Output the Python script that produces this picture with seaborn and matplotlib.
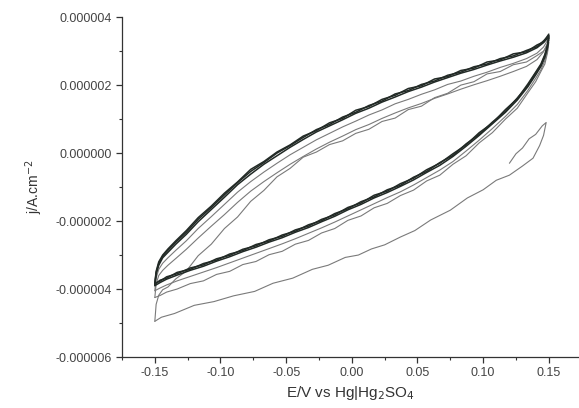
import matplotlib
matplotlib.use("Agg")
import matplotlib.pyplot as plt
from matplotlib.ticker import MultipleLocator, FormatStrFormatter
import seaborn as sns
import pandas as pd

# potential grids (V vs Hg|Hg2SO4)
E_fwd = [-0.150, -0.149, -0.147, -0.144, -0.140, -0.134, -0.126, -0.117, -0.107, -0.097, -0.087, -0.077,
         -0.067, -0.057, -0.047, -0.037, -0.027, -0.017, -0.007, 0.003, 0.013, 0.023, 0.033, 0.043,
         0.053, 0.063, 0.073, 0.083, 0.093, 0.103, 0.113, 0.123, 0.133, 0.141, 0.146, 0.150]
E_rev = [0.150, 0.149, 0.147, 0.144, 0.140, 0.134, 0.126, 0.117, 0.107, 0.097, 0.087, 0.077,
         0.067, 0.057, 0.047, 0.037, 0.027, 0.017, 0.007, -0.003, -0.013, -0.023, -0.033, -0.043,
         -0.053, -0.063, -0.073, -0.083, -0.093, -0.103, -0.113, -0.123, -0.133, -0.141, -0.146, -0.150]
# first scan starts at open circuit, goes up then sweeps down
E_c1 = [0.120, 0.125, 0.130, 0.135, 0.140, 0.145, 0.148, 0.146, 0.143, 0.138, 0.130, 0.120, 0.110,
        0.100, 0.088, 0.075, 0.060, 0.048, 0.037, 0.025, 0.015, 0.005, -0.005, -0.018, -0.030,
        -0.045, -0.060, -0.074, -0.090, -0.105, -0.120, -0.135, -0.145, -0.150]

# current density in uA/cm2, one list per half cycle
j_c1 = [-0.30, -0.02, 0.15, 0.42, 0.55, 0.80, 0.90, 0.52, 0.22, -0.15, -0.38, -0.65, -0.80,
        -1.08, -1.32, -1.68, -1.97, -2.28, -2.47, -2.70, -2.82, -3.00, -3.07, -3.30, -3.42,
        -3.68, -3.83, -4.07, -4.20, -4.37, -4.48, -4.72, -4.83, -4.95]
up1 = [-4.95, -4.45, -4.18, -4.02, -3.94, -3.70, -3.47, -3.02, -2.68, -2.22, -1.88, -1.42,
       -1.10, -0.70, -0.45, -0.12, 0.03, 0.25, 0.36, 0.58, 0.70, 0.93, 1.03, 1.28,
       1.38, 1.63, 1.76, 2.00, 2.10, 2.33, 2.40, 2.60, 2.68, 2.87, 3.00, 3.25]
down2 = [3.25, 2.95, 2.62, 2.40, 2.10, 1.77, 1.32, 1.00, 0.60, 0.30, -0.08, -0.33,
         -0.65, -0.82, -1.09, -1.25, -1.48, -1.61, -1.85, -1.98, -2.22, -2.35, -2.57, -2.68,
         -2.89, -2.99, -3.19, -3.28, -3.48, -3.57, -3.76, -3.84, -4.00, -4.09, -4.19, -4.25]
up2 = [-4.25, -3.85, -3.60, -3.45, -3.30, -3.10, -2.83, -2.50, -2.15, -1.81, -1.45, -1.12,
       -0.84, -0.58, -0.33, -0.10, 0.12, 0.32, 0.50, 0.69, 0.84, 1.02, 1.18, 1.33,
       1.46, 1.61, 1.74, 1.88, 2.01, 2.13, 2.26, 2.40, 2.55, 2.75, 2.98, 3.32]
down3 = [3.32, 3.00, 2.72, 2.45, 2.20, 1.84, 1.43, 1.08, 0.72, 0.38, 0.06, -0.25,
         -0.50, -0.72, -0.94, -1.14, -1.31, -1.49, -1.67, -1.85, -2.03, -2.20, -2.36, -2.52,
         -2.67, -2.81, -2.95, -3.09, -3.23, -3.37, -3.50, -3.63, -3.76, -3.88, -3.97, -4.05]
up3 = [-4.05, -3.68, -3.42, -3.24, -3.08, -2.86, -2.58, -2.22, -1.87, -1.51, -1.15, -0.84,
       -0.56, -0.30, -0.05, 0.17, 0.39, 0.58, 0.77, 0.94, 1.12, 1.27, 1.45, 1.58,
       1.73, 1.86, 2.02, 2.12, 2.26, 2.38, 2.52, 2.64, 2.78, 2.94, 3.12, 3.38]
down4 = [3.38, 3.10, 2.82, 2.55, 2.30, 1.95, 1.56, 1.20, 0.86, 0.52, 0.20, -0.10,
         -0.36, -0.57, -0.79, -0.98, -1.16, -1.32, -1.51, -1.67, -1.86, -2.02, -2.19, -2.33,
         -2.49, -2.62, -2.77, -2.90, -3.05, -3.18, -3.33, -3.45, -3.59, -3.71, -3.81, -3.90]
up4 = [-3.90, -3.56, -3.30, -3.08, -2.92, -2.68, -2.39, -2.02, -1.66, -1.30, -0.93, -0.62,
       -0.33, -0.08, 0.17, 0.40, 0.62, 0.80, 0.98, 1.17, 1.32, 1.50, 1.65, 1.81,
       1.94, 2.09, 2.22, 2.35, 2.46, 2.59, 2.71, 2.82, 2.95, 3.10, 3.25, 3.42]
down5 = [3.42, 3.14, 2.87, 2.58, 2.36, 1.98, 1.62, 1.23, 0.91, 0.55, 0.27, -0.07,
         -0.28, -0.54, -0.71, -0.95, -1.08, -1.29, -1.43, -1.64, -1.78, -1.99, -2.11, -2.30,
         -2.41, -2.59, -2.69, -2.87, -2.97, -3.15, -3.25, -3.42, -3.51, -3.68, -3.74, -3.86]
up5 = [-3.86, -3.52, -3.25, -3.03, -2.86, -2.62, -2.33, -1.95, -1.60, -1.23, -0.87, -0.54,
       -0.28, 0.00, 0.22, 0.46, 0.69, 0.84, 1.06, 1.20, 1.40, 1.53, 1.74, 1.84,
       2.02, 2.12, 2.29, 2.38, 2.54, 2.62, 2.78, 2.86, 3.02, 3.13, 3.30, 3.46]
down6 = [3.46, 3.18, 2.90, 2.62, 2.38, 2.03, 1.60, 1.28, 0.88, 0.60, 0.24, -0.02,
         -0.30, -0.49, -0.74, -0.90, -1.12, -1.24, -1.47, -1.60, -1.82, -1.95, -2.15, -2.26,
         -2.45, -2.55, -2.73, -2.83, -3.01, -3.11, -3.29, -3.38, -3.55, -3.64, -3.77, -3.83]
up6 = [-3.83, -3.48, -3.20, -3.00, -2.82, -2.58, -2.28, -1.90, -1.56, -1.18, -0.85, -0.48,
       -0.25, 0.03, 0.24, 0.50, 0.66, 0.89, 1.02, 1.26, 1.37, 1.58, 1.70, 1.90,
       1.98, 2.18, 2.25, 2.43, 2.50, 2.68, 2.74, 2.92, 2.98, 3.18, 3.27, 3.50]

segments = [
    (E_c1, j_c1, "light"), (E_fwd, up1, "light"), (E_rev, down2, "light"), (E_fwd, up2, "light"),
    (E_rev, down3, "light"), (E_fwd, up3, "light"), (E_rev, down4, "dark"), (E_fwd, up4, "dark"),
    (E_rev, down5, "dark"), (E_fwd, up5, "dark"), (E_rev, down6, "dark"), (E_fwd, up6, "dark"),
]

rows = []
for k, (E, j, shade) in enumerate(segments):
    for i in range(len(E)):
        rows.append({"E": E[i], "j": j[i] * 1e-6, "seg": k, "shade": shade})
df = pd.DataFrame(rows)

sns.set_style("ticks")
plt.rcParams['font.family'] = ['Liberation Sans', 'DejaVu Sans']

fig = plt.figure(figsize=(5.79, 4.08), dpi=100)
ax = fig.add_axes([0.2107, 0.125, 0.7893, 0.833])

styles = {"light": ("#7a7a7a", 0.8), "dark": ("#222a26", 1.1)}
for k, sub in df.groupby("seg"):
    col, lw = styles[sub["shade"].iloc[0]]
    sns.lineplot(data=sub, x="E", y="j", sort=False, estimator=None, color=col, lw=lw, ax=ax)

ax.set_xlim(-0.175, 0.173)
ax.set_ylim(-0.000006, 0.000004)
ax.xaxis.set_major_locator(MultipleLocator(0.05))
ax.xaxis.set_minor_locator(MultipleLocator(0.025))
ax.yaxis.set_major_locator(MultipleLocator(0.000002))
ax.yaxis.set_minor_locator(MultipleLocator(0.000001))
ax.xaxis.set_major_formatter(FormatStrFormatter('%.2f'))
ax.yaxis.set_major_formatter(FormatStrFormatter('%.6f'))
ax.tick_params(which='major', direction='out', length=4, width=0.9, color='#333333',
               labelsize=9, labelcolor='#444444', pad=3)
ax.tick_params(which='minor', direction='out', length=2.5, width=0.8, color='#333333')

for s in ['top', 'right']:
    ax.spines[s].set_visible(False)
for s in ['left', 'bottom']:
    ax.spines[s].set_color('#333333')
    ax.spines[s].set_linewidth(0.9)

ax.set_xlabel("E/V vs Hg|Hg$_2$SO$_4$", fontsize=11, color='#333333', labelpad=4)
ax.set_ylabel("j/A.cm$^{-2}$", fontsize=10, color='#333333', labelpad=8)

fig.savefig("out.png", dpi=100)
